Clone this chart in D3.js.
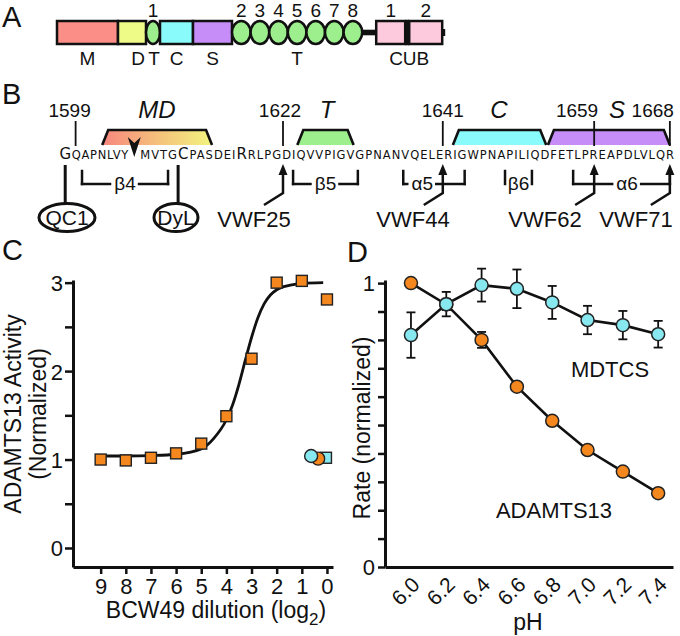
<!DOCTYPE html>
<html><head><meta charset="utf-8">
<script src="https://cdn.jsdelivr.net/npm/d3@7"></script>
<style>
body{margin:0;background:#fff}
svg{display:block}
text{font-family:"Liberation Sans",Arial,Helvetica,sans-serif;fill:#111}
</style></head>
<body><svg id="fig" width="680" height="636"></svg>
<script>
// ================= DATA =================
// Panel A: ADAMTS13 domain architecture (schematic widths)
const archNames  = ["M","D","T1","C","S","T2","T3","T4","T5","T6","T7","T8","linker","CUB1","sep","CUB2","tail"];
const archKinds  = ["box","box","oval","box","box","oval","oval","oval","oval","oval","oval","oval","link","box","sep","box","tail"];
const archWidths = [61,28,14,33,39,18.6,18.6,18.6,18.6,18.6,18.6,18.6,14,29,4,33,3];
const archTop    = ["","","1","","","2","3","4","5","6","7","8","","1","","2",""];
const archBottomLabels = ["M","D","T","C","S","T","CUB"];

// Panel B: sequence 1599-1668
const sequence = "GQAPNLVYMVTGCPASDEIRRLPGDIQVVPIGVGPNANVQELERIGWPNAPILIQDFETLPREAPDLVLQR";
const bigResidues = [0,12,19];
const seqTickLabels = ["1599","1622","1641","1659","1668"];
const seqTickIndex  = [1,24,43,61,70];
const domainSegNames = ["MD","T","C","S"];
const domainSegStart = [4.4,25.7,44.2,55.5];
const domainSegEnd   = [15.8,32.4,55.3,70.4];
const structNames = ["β4","β5","α5","β6","α6"];
const structStart = [2,25.2,38.3,50.4,58.5];
const structEnd   = [10.8,32.9,45.6,53.6,70.6];
const vwfNames = ["VWF25","VWF44","VWF62","VWF71"];
const vwfIndex = [24,43,61,70];

// Panel C
const dilution = [9,8,7,6,5,4,3,2,1,0];
const activity = [1.00,0.99,1.02,1.07,1.18,1.49,2.14,3.00,3.02,2.81];
const fitDilution = [9,8,7,6,5,4.5,4,3.75,3.5,3.25,3,2.75,2.5,2.25,2,1.5,1,0.15];
const fitActivity = [1.04,1.04,1.045,1.06,1.12,1.24,1.45,1.62,1.85,2.12,2.38,2.6,2.76,2.86,2.92,2.97,2.99,3.0];
const ctrlDilution = [0.04,0.35,0.63];
const ctrlActivity = [1.02,1.01,1.04];
const ctrlShape = ["square","circle","circle"];
const ctrlSeries = ["MDTCS","ADAMTS13","MDTCS"];
const xTicksC = [9,8,7,6,5,4,3,2,1,0];
const yTicksC = [0,0.5,1,1.5,2,2.5,3];

// Panel D
const pH = [6.0,6.2,6.4,6.6,6.8,7.0,7.2,7.4];
const adamtsRate = [1.0,0.925,0.80,0.635,0.515,0.412,0.336,0.26];
const adamtsErr  = [0.015,0.02,0.028,0,0,0,0,0];
const mdtcsRate  = [0.817,0.926,0.993,0.98,0.932,0.87,0.852,0.82];
const mdtcsErr   = [0.08,0.043,0.058,0.068,0.058,0.05,0.05,0.047];
const yTicksD = [0,0.1,0.2,0.3,0.4,0.5,0.6,0.7,0.8,0.9,1.0];

// ================= STYLE =================
const COL = {M:"#fb8e86",D:"#eefb86",T:"#9cef8c",C:"#88fbfa",S:"#c68cf7",CUB:"#fdc9dc",
             orange:"#f5871f",cyan:"#88e8f0"};
const svg = d3.select("#fig");

function panelLetter(t,x,y){
  svg.append("text").attr("x",x).attr("y",y).attr("font-size",29).text(t);
}
panelLetter("A",2,27); panelLetter("B",2,104); panelLetter("C",2,260); panelLetter("D",347,262);

// ================= PANEL A =================
{
  const total = d3.sum(archWidths);
  const xA = d3.scaleLinear().domain([0,total]).range([57,445.2]);
  const starts = [0, ...d3.cumsum(archWidths)].slice(0,archWidths.length);
  const g = svg.append("g");
  const yTop = 21, h = 23, yMid = 32.5;
  const fillFor = n => n==="M"?COL.M:n==="D"?COL.D:n==="C"?COL.C:n==="S"?COL.S:n.startsWith("CUB")?COL.CUB:COL.T;
  archNames.forEach((n,i)=>{
    const x0 = xA(starts[i]), x1 = xA(starts[i]+archWidths[i]);
    if(archKinds[i]==="link") g.append("rect").attr("x",x0-2).attr("y",yMid-2.8).attr("width",x1-x0+4).attr("height",5.6).attr("fill","#111");
    if(archKinds[i]==="tail") g.append("rect").attr("x",x0-1).attr("y",yMid-3.5).attr("width",x1-x0+1).attr("height",7).attr("fill","#111");
  });
  archNames.forEach((n,i)=>{
    const x0 = xA(starts[i]), x1 = xA(starts[i]+archWidths[i]);
    if(archKinds[i]==="box"){
      g.append("rect").attr("x",x0).attr("y",yTop).attr("width",x1-x0).attr("height",h)
        .attr("fill",fillFor(n)).attr("stroke","#111").attr("stroke-width",2.5);
    } else if(archKinds[i]==="oval"){
      g.append("ellipse").attr("cx",(x0+x1)/2).attr("cy",yMid).attr("rx",(x1-x0)/2).attr("ry",h/2)
        .attr("fill",COL.T).attr("stroke","#111").attr("stroke-width",2.5);
    } else if(archKinds[i]==="sep"){
      g.append("rect").attr("x",x0).attr("y",yTop-1.25).attr("width",x1-x0).attr("height",h+2.5).attr("fill","#111");
    }
    if(archTop[i]) g.append("text").attr("x",(x0+x1)/2).attr("y",17).attr("text-anchor","middle")
        .attr("font-size",19).text(archTop[i]);
  });
  const idx = n => archNames.indexOf(n);
  const cen = (a,b) => (xA(starts[idx(a)]) + xA(starts[idx(b)]+archWidths[idx(b)]))/2;
  const bottomX = [cen("M","M"), cen("D","D")+6, cen("T1","T1")+1, cen("C","C"), cen("S","S"), cen("T2","T8"), cen("CUB1","CUB2")];
  archBottomLabels.forEach((t,i)=> g.append("text").attr("x",bottomX[i]).attr("y",65)
     .attr("text-anchor","middle").attr("font-size",19).text(t));
}

// ================= PANEL B =================
{
  const g = svg.append("g");
  const seqY = 159;
  // residue grid used for annotations
  const step = 8.41, bigStep = 9.4, gap = 12;
  const xs = new Array(sequence.length);
  xs[24] = 283;
  for(let i=25;i<sequence.length;i++) xs[i] = xs[i-1]+step;
  for(let i=23;i>=0;i--){
    let d = step;
    if(bigResidues.includes(i) || bigResidues.includes(i+1)) d = bigStep;
    if(i===7) d = step+gap;
    xs[i] = xs[i+1]-d;
  }
  const posAt = f => { const i=Math.floor(f), t=f-i; return i>=xs.length-1? xs[xs.length-1] : xs[i]+(xs[i+1]-xs[i])*t; };
  const defs = svg.append("defs");
  const grad = defs.append("linearGradient").attr("id","mdgrad").attr("x1","0%").attr("x2","100%");
  grad.append("stop").attr("offset","0%").attr("stop-color","#f7867e");
  grad.append("stop").attr("offset","50%").attr("stop-color","#f5c07c");
  grad.append("stop").attr("offset","100%").attr("stop-color","#f2f47f");
  const segFill = ["url(#mdgrad)",COL.T,COL.C,COL.S];
  domainSegNames.forEach((n,i)=>{
    const a = posAt(domainSegStart[i]), b = posAt(domainSegEnd[i]);
    const top = 130, bot = 145, ins = 6;
    g.append("path").attr("d",`M${a},${bot} L${a+ins},${top} L${b-ins},${top} L${b},${bot}`)
      .attr("fill",segFill[i]).attr("stroke","#111").attr("stroke-width",2.6).attr("stroke-linejoin","miter");
  });
  // sequence drawn as two runs (split at the MD cleavage site), spread over fixed spans
  const runs = [{from:0,to:8,x0:xs[0]-bigStep/2,x1:xs[7]+step/2},{from:8,to:sequence.length,x0:xs[8]-step/2,x1:xs[70]+step/2}];
  runs.forEach(r=>{
    const t = g.append("text").attr("x",r.x0).attr("y",seqY)
      .style("font-family","'DejaVu Sans',Verdana,sans-serif").attr("font-size",11.5);
    for(let i=r.from;i<r.to;i++){
      t.append("tspan").attr("font-size",bigResidues.includes(i)?15:11.5).text(sequence[i]);
    }
    t.attr("textLength",r.x1-r.x0).attr("lengthAdjust","spacing");
  });
  const segLabelX = [157,327,499,617];
  domainSegNames.forEach((n,i)=> g.append("text").attr("x",segLabelX[i]).attr("y",118)
     .attr("text-anchor","middle").attr("font-size",24).attr("font-style","italic").text(n));
  seqTickIndex.forEach((k,i)=>{
    const x = xs[k] + (i===0?2:0);
    g.append("line").attr("x1",x).attr("x2",x).attr("y1",121).attr("y2",146).attr("stroke","#111").attr("stroke-width",1.8);
    const anchor = i>=3 ? "end" : "middle";
    const tx = i===0 ? x-6 : i===1 ? x-3 : i>=3 ? x+4 : x;
    g.append("text").attr("x",tx).attr("y",117).attr("text-anchor",anchor).attr("font-size",19).text(seqTickLabels[i]);
  });
  const ax = (xs[7]+xs[8])/2;
  g.append("path").attr("d",`M${ax-6.5},137 L${ax},143 L${ax+6.5},137 L${ax},157 Z`).attr("fill","#111");
  const bTop = 171, bBot = 184, lw = 2.5;
  const line = (x1,y1,x2,y2)=> g.append("line").attr("x1",x1).attr("y1",y1).attr("x2",x2).attr("y2",y2)
       .attr("stroke","#111").attr("stroke-width",lw).attr("stroke-linecap","square");
  structNames.forEach((n,i)=>{
    const a = posAt(structStart[i]), b = posAt(structEnd[i]);
    let lx = (a+b)/2;
    if(n==="α5") lx = a+19;
    if(n==="α6") lx = a+54;
    line(a,bTop,a,bBot); line(b,bTop,b,bBot);
    if(n!=="β6"){
      line(a,bBot,lx-15,bBot);
      line(lx+14,bBot,b,bBot);
    }
    g.append("text").attr("x",lx).attr("y",190).attr("text-anchor","middle").attr("font-size",19).text(n);
  });
  const vwfLabelX = [254,413,545,636];
  vwfNames.forEach((n,i)=>{
    const x = xs[vwfIndex[i]];
    g.append("polyline").attr("points",`${x-19},205 ${x},193 ${x},172`).attr("fill","none")
      .attr("stroke","#111").attr("stroke-width",2.5).attr("stroke-linejoin","miter");
    g.append("path").attr("d",`M${x},164 L${x+4.5},175 L${x-4.5},175 Z`).attr("fill","#111");
    g.append("text").attr("x",vwfLabelX[i]).attr("y",227).attr("text-anchor","middle").attr("font-size",22).text(n);
  });
  const tags = [{t:"QC1",x:67,lx:xs[0]+1,rx:28},{t:"DyL",x:176,lx:xs[12]-1,rx:22}];
  tags.forEach(o=>{
    g.append("line").attr("x1",o.lx).attr("x2",o.lx).attr("y1",165).attr("y2",204).attr("stroke","#111").attr("stroke-width",3);
    g.append("ellipse").attr("cx",o.x).attr("cy",217.5).attr("rx",o.rx).attr("ry",14)
      .attr("fill","#fff").attr("stroke","#111").attr("stroke-width",3);
    g.append("text").attr("x",o.x).attr("y",225).attr("text-anchor","middle").attr("font-size",21).text(o.t);
  });
}

// ================= PANEL C =================
{
  const g = svg.append("g");
  const xC = d3.scaleLinear().domain([10.1,-0.24]).range([73,333]);
  const yC = d3.scaleLinear().domain([-0.215,3.03]).range([567,280]);
  const ax = g.append("g").attr("transform","translate(0,567)")
    .call(d3.axisBottom(xC).tickValues(xTicksC).tickFormat(d3.format("d")).tickSize(7).tickSizeOuter(0).tickPadding(4));
  const ay = g.append("g").attr("transform","translate(73,0)")
    .call(d3.axisLeft(yC).tickValues(yTicksC).tickFormat(d=>Number.isInteger(d)?d:"").tickSize(8).tickSizeOuter(0).tickPadding(2));
  [ax,ay].forEach(a=>{
    a.select(".domain").attr("stroke","#111").attr("stroke-width",3);
    a.selectAll(".tick line").attr("stroke","#111").attr("stroke-width",2.5);
    a.selectAll("text").attr("font-size",22).attr("font-family","'Liberation Sans',Arial,sans-serif").attr("fill","#111");
  });
  ay.selectAll("text").attr("dy","0.36em");
  const fit = fitDilution.map((d,i)=>[d,fitActivity[i]]);
  g.append("path").datum(fit).attr("fill","none").attr("stroke","#111").attr("stroke-width",2.8)
    .attr("d",d3.line().x(d=>xC(d[0])).y(d=>yC(d[1])).curve(d3.curveMonotoneX));
  const s = 11;
  g.selectAll(".sq").data(dilution.map((d,i)=>[d,activity[i]])).join("rect")
    .attr("x",d=>xC(d[0])-s/2).attr("y",d=>yC(d[1])-s/2).attr("width",s).attr("height",s)
    .attr("fill",COL.orange).attr("stroke","#222").attr("stroke-width",1.4);
  ctrlDilution.forEach((d,i)=>{
    const fill = ctrlSeries[i]==="MDTCS"?COL.cyan:COL.orange;
    if(ctrlShape[i]==="square"){
      g.append("rect").attr("x",xC(d)-s/2).attr("y",yC(ctrlActivity[i])-s/2).attr("width",s).attr("height",s)
        .attr("fill",fill).attr("stroke","#222").attr("stroke-width",1.4);
    } else {
      g.append("circle").attr("cx",xC(d)).attr("cy",yC(ctrlActivity[i])).attr("r",6.5)
        .attr("fill",fill).attr("stroke","#222").attr("stroke-width",1.4);
    }
  });
  g.append("text").attr("transform","translate(21,414) rotate(-90)").attr("text-anchor","middle").attr("font-size",23).text("ADAMTS13 Activity");
  g.append("text").attr("transform","translate(46,414) rotate(-90)").attr("text-anchor","middle").attr("font-size",23).text("(Normalized)");
  const xt = g.append("text").attr("x",216).attr("y",618).attr("text-anchor","middle").attr("font-size",23);
  xt.append("tspan").text("BCW49 dilution (log");
  xt.append("tspan").attr("dy",7).attr("font-size",17).text("2");
  xt.append("tspan").attr("dy",-7).text(")");
}

// ================= PANEL D =================
{
  const g = svg.append("g");
  const xD = d3.scaleLinear().domain([5.853,7.484]).range([385,673]);
  const yD = d3.scaleLinear().domain([0,1.011]).range([567,280]);
  const ax = g.append("g").attr("transform","translate(0,567)")
    .call(d3.axisBottom(xD).tickValues(pH).tickFormat("").tickSize(0).tickSizeOuter(0));
  const ay = g.append("g").attr("transform","translate(385,0)")
    .call(d3.axisLeft(yD).tickValues(yTicksD).tickFormat(d=>(d===0||d===1)?d3.format("d")(d):"").tickSize(7).tickSizeOuter(0).tickPadding(3));
  [ax,ay].forEach(a=>{
    a.select(".domain").attr("stroke","#111").attr("stroke-width",3);
    a.selectAll(".tick line").attr("stroke","#111").attr("stroke-width",2.5);
    a.selectAll("text").attr("font-size",22).attr("font-family","'Liberation Sans',Arial,sans-serif").attr("fill","#111");
  });
  pH.forEach(p=>{
    g.append("text").attr("transform",`translate(${xD(p)+10},586) rotate(-45)`).attr("text-anchor","end")
      .attr("font-size",21).text(d3.format(".1f")(p));
  });
  const lineGen = d3.line().x(d=>xD(d[0])).y(d=>yD(d[1]));
  const aData = pH.map((p,i)=>[p,adamtsRate[i],adamtsErr[i]]);
  const mData = pH.map((p,i)=>[p,mdtcsRate[i],mdtcsErr[i]]);
  g.append("path").datum(aData).attr("fill","none").attr("stroke","#111").attr("stroke-width",2.6).attr("d",lineGen);
  g.append("path").datum(mData).attr("fill","none").attr("stroke","#111").attr("stroke-width",2.6).attr("d",lineGen);
  const errBars = data => data.filter(d=>d[2]>0).forEach(d=>{
    const x = xD(d[0]), y1 = yD(d[1]-d[2]), y2 = yD(d[1]+d[2]);
    g.append("line").attr("x1",x).attr("x2",x).attr("y1",y1).attr("y2",y2).attr("stroke","#111").attr("stroke-width",1.8);
    [y1,y2].forEach(y=> g.append("line").attr("x1",x-4.5).attr("x2",x+4.5).attr("y1",y).attr("y2",y).attr("stroke","#111").attr("stroke-width",1.8));
  });
  errBars(aData); errBars(mData);
  g.selectAll(".ca").data(aData).join("circle").attr("cx",d=>xD(d[0])).attr("cy",d=>yD(d[1])).attr("r",6.5)
    .attr("fill",COL.orange).attr("stroke","#222").attr("stroke-width",1.5);
  g.selectAll(".cm").data(mData).join("circle").attr("cx",d=>xD(d[0])).attr("cy",d=>yD(d[1])).attr("r",6.5)
    .attr("fill",COL.cyan).attr("stroke","#222").attr("stroke-width",1.5);
  g.append("text").attr("x",610).attr("y",377).attr("text-anchor","middle").attr("font-size",22).text("MDTCS");
  g.append("text").attr("x",554).attr("y",518).attr("text-anchor","middle").attr("font-size",22).text("ADAMTS13");
  g.append("text").attr("transform","translate(370,428) rotate(-90)").attr("text-anchor","middle").attr("font-size",23).text("Rate (normalized)");
  g.append("text").attr("x",528).attr("y",630).attr("text-anchor","middle").attr("font-size",23).text("pH");
}
</script></body></html>
